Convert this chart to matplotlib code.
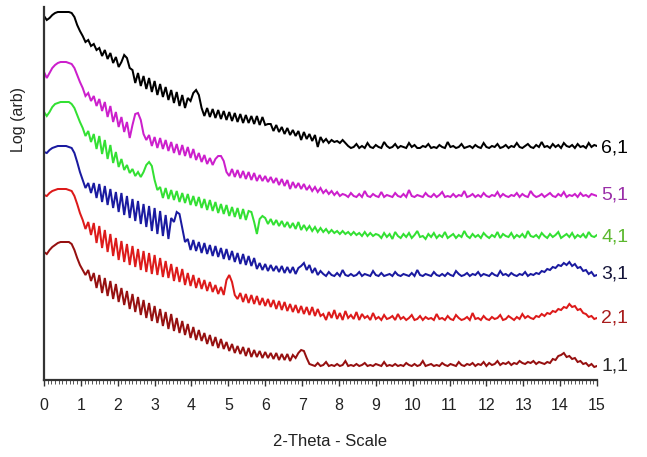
import numpy as np
import matplotlib
matplotlib.use("Agg")
import matplotlib.pyplot as plt
from matplotlib.ticker import MultipleLocator

# ---- data (log intensity, arbitrary offset units), sampled on 0..15 deg 2-theta ----
labels = ["6,1", "5,1", "4,1", "3,1", "2,1", "1,1"]

s61 = [364,360,362,365,367,368,368,368,368,368,367,363,355,349,
       344,338,340,334,336,330,332,
       324,330,321,327,317,323,313,
       318,325,322,312,
       310,297,307,294,304,291,302,288,299,285,296,283,293,280,290,277,288,274,285,272,282,
       279,287,290,285,272,
       264,272,263,271,262,270,261,269,260,268,259,267,258,266,257,265,257,264,256,264,255,263,255,
       256,
       256,249,255,248,253,246,252,245,250,244,249,240,248,241,246,239,245,233,243,
       238,241,237,240,238,239,237,240,237,234,
       232,233,236,232,234,232,237,233,232,235,
       233,232,238,234,232,233,236,232,234,233,
       232,237,233,235,232,232,234,233,236,232,
       233,232,235,233,232,238,233,234,232,233,
       236,232,233,234,232,235,233,232,237,233,
       232,234,233,236,232,233,235,232,234,233,
       237,233,232,234,236,233,232,235,233,238,
       233,234,232,236,233,235,232,237,234,233,
       235,232,236,233,234,232,237,233,235,234]

s51 = [308,302,307,312,315,317,318,318,318,317,316,312,305,298,292,
       284,287,279,284,274,281,269,278,263,274,258,268,253,263,248,258,242,
       255,266,267,260,246,240,
       245,234,243,232,242,231,240,229,238,227,236,225,235,224,233,222,231,220,227,218,225,216,222,215,
       221,224,224,219,208,
       204,211,203,210,202,209,201,208,200,207,199,205,199,204,198,203,197,202,195,201,194,200,191,198,192,197,191,196,190,
       194,189,193,188,192,187,190,186,189,185,188,184,186,
       185,183,187,184,183,186,183,189,184,183,
       186,184,183,188,183,185,184,183,187,184,
       183,186,183,190,184,183,185,184,183,187,
       184,183,186,183,185,188,183,184,183,186,
       183,185,184,189,183,184,186,183,185,183,
       187,184,183,185,184,188,183,186,184,183,
       185,184,187,183,186,184,183,189,185,183,
       184,186,183,185,187,184,183,186,184,188,
       183,185,184,186,183,187,184,185,183,186,
       185,184]

s41 = [268,264,268,273,276,277,278,278,278,278,276,272,265,258,252,
       244,249,238,246,231,244,226,240,221,235,217,228,213,221,210,215,207,211,204,208,
       203,208,215,218,214,200,190,
       193,182,192,181,190,180,189,178,187,177,186,175,184,174,183,172,181,170,180,169,
       178,167,176,166,175,164,173,163,172,161,171,160,169,
       168,158,146,161,164,
       162,156,161,155,160,154,159,153,158,152,157,151,158,150,155,150,154,149,153,148,
       152,148,151,147,150,147,149,146,149,146,148,145,148,145,147,144,148,144,147,144,146,
       145,142,147,143,146,141,148,144,142,146,
       143,147,142,145,149,143,144,141,146,143,
       147,142,145,143,148,142,144,146,142,145,
       143,149,144,142,146,143,145,142,147,144,
       142,145,143,148,142,146,144,143,147,142,
       145,143,146,142,149,144,143,145,142,147,
       144,142,146,143,145,148,142,144,146,143,
       147,142,145,143,146,142,148,144,143,145]

s31 = [228,227,230,232,233,234,234,234,234,233,232,227,218,208,200,
       192,197,187,197,182,196,178,194,175,191,172,188,168,187,165,184,162,181,159,179,
       156,176,153,174,149,172,146,169,144,165,141,162,
       158,168,166,152,138,
       141,130,140,129,138,127,137,126,135,124,134,123,132,121,131,120,129,118,127,116,126,115,124,114,122,
       111,117,110,116,109,115,109,114,108,114,107,113,107,113,106,112,114,117,110,115,107,112,105,109,
       106,104,108,105,104,107,104,110,105,104,
       106,104,105,108,104,106,105,104,109,105,
       104,107,104,105,106,104,108,105,104,106,
       105,104,107,104,110,105,104,106,105,104,
       108,105,104,106,104,107,105,104,109,106,
       104,105,107,104,106,105,108,104,106,105,
       104,107,105,104,109,105,106,104,107,105,
       104,106,105,108,104,106,
       105,107,106,109,108,111,110,113,112,115,114,117,115,118,114,116,112,113,109,110,
       106,108,104,105]

s21 = [185,184,187,189,190,191,191,191,191,190,189,184,176,167,160,
       151,158,145,157,137,154,132,150,128,146,124,142,120,139,118,136,115,134,113,131,
       110,129,108,127,106,125,105,122,103,119,102,116,99,113,98,111,95,107,94,105,
       92,102,91,100,89,98,88,95,86,93,
       85,100,105,98,85,81,
       87,78,86,77,85,76,84,75,82,74,81,73,80,71,79,70,78,69,76,68,75,67,74,66,73,65,73,64,71,64,
       66,60,68,62,70,61,67,60,69,62,
       65,61,68,60,66,62,64,60,67,61,
       63,60,65,61,62,64,60,66,61,63,
       60,62,65,60,61,64,60,63,61,62,
       60,66,61,62,60,64,61,60,65,62,
       60,61,63,60,67,61,62,60,64,61,
       60,63,61,62,65,60,61,64,62,60,
       63,61,66,62,64,
       62,61,64,63,66,64,67,66,69,68,71,70,73,72,76,73,74,70,71,67,66,
       63,64,61,62]

s11 = [128,126,130,133,135,137,138,138,138,138,136,130,122,115,110,
       105,110,99,107,92,105,87,102,84,99,81,96,78,92,75,89,71,86,68,83,
       65,80,62,77,59,74,57,71,54,68,51,66,49,62,47,59,45,56,42,53,
       40,50,39,47,36,45,34,43,32,41,31,38,29,36,27,34,26,33,24,32,
       23,30,23,29,22,28,22,27,21,27,20,26,20,26,19,25,
       22,27,30,29,22,16,
       15,14,17,14,15,18,14,15,14,16,
       14,15,19,14,15,14,16,14,15,17,
       14,15,14,16,15,14,18,14,15,14,
       16,14,15,14,17,15,14,16,14,15,
       19,14,15,16,14,15,14,17,15,14,
       16,15,14,18,15,14,16,15,17,14,
       16,15,18,14,17,15,16,19,15,17,
       16,18,15,17,16,19,17,16,18,17,
       19,16,18,17,
       16,18,17,21,20,24,25,27,23,24,21,22,18,19,16,17,14,
       16,13,14]

series = [s61, s51, s41, s31, s21, s11]
line_colors = ["#000000", "#cc1fcc", "#33e033", "#1a1aa0", "#dd1a1a", "#961010"]
label_colors = ["#000000", "#9a2fa8", "#5cb82e", "#15153a", "#a81c1c", "#2a2a2a"]
label_y = [232, 185, 143, 106, 62, 14]

# ---- figure ----
W, H = 647, 457
fig = plt.figure(figsize=(W / 100, H / 100), dpi=100)
left, right, bottom, top = 44, 597, 380, 7
ax = fig.add_axes([left / W, (H - bottom) / H, (right - left) / W, (bottom - top) / H])

for ys, c in zip(series, line_colors):
    xs = np.linspace(0, 15, len(ys))
    ax.plot(xs, ys, color=c, lw=1.45, solid_joinstyle="miter")

ax.set_xlim(0, 15)
ax.set_ylim(0, 373)

for s in ["top", "right"]:
    ax.spines[s].set_visible(False)
for s in ["left", "bottom"]:
    ax.spines[s].set_linewidth(1.6)
    ax.spines[s].set_color("#333333")

ax.set_yticks([])
ax.set_xticks(range(16))
ax.xaxis.set_minor_locator(MultipleLocator(0.1))
ax.tick_params(axis="x", which="major", length=4, width=1.0, color="#333333", pad=9)
ax.tick_params(axis="x", which="minor", length=3, width=0.7, color="#555555")

tick_font = ["Liberation Sans Narrow", "Liberation Sans", "DejaVu Sans"]
for lab in ax.get_xticklabels():
    lab.set_fontfamily(tick_font)
    lab.set_fontsize(11.5)
    lab.set_color("#222222")

for lab, y, c in zip(labels, label_y, label_colors):
    ax.text(15.12, y, lab, color=c, fontsize=14, va="center", ha="left",
            family=["Liberation Sans", "DejaVu Sans"], clip_on=False)

fig.text(330 / W, 1 - 442 / H, "2-Theta - Scale", ha="center", va="center",
         fontsize=12, family=tick_font, color="#222222")
fig.text(18 / W, 1 - 120 / H, "Log (arb)", ha="center", va="center", rotation=90,
         fontsize=11.5, family=tick_font, color="#222222")

fig.savefig("out.png", dpi=100)
